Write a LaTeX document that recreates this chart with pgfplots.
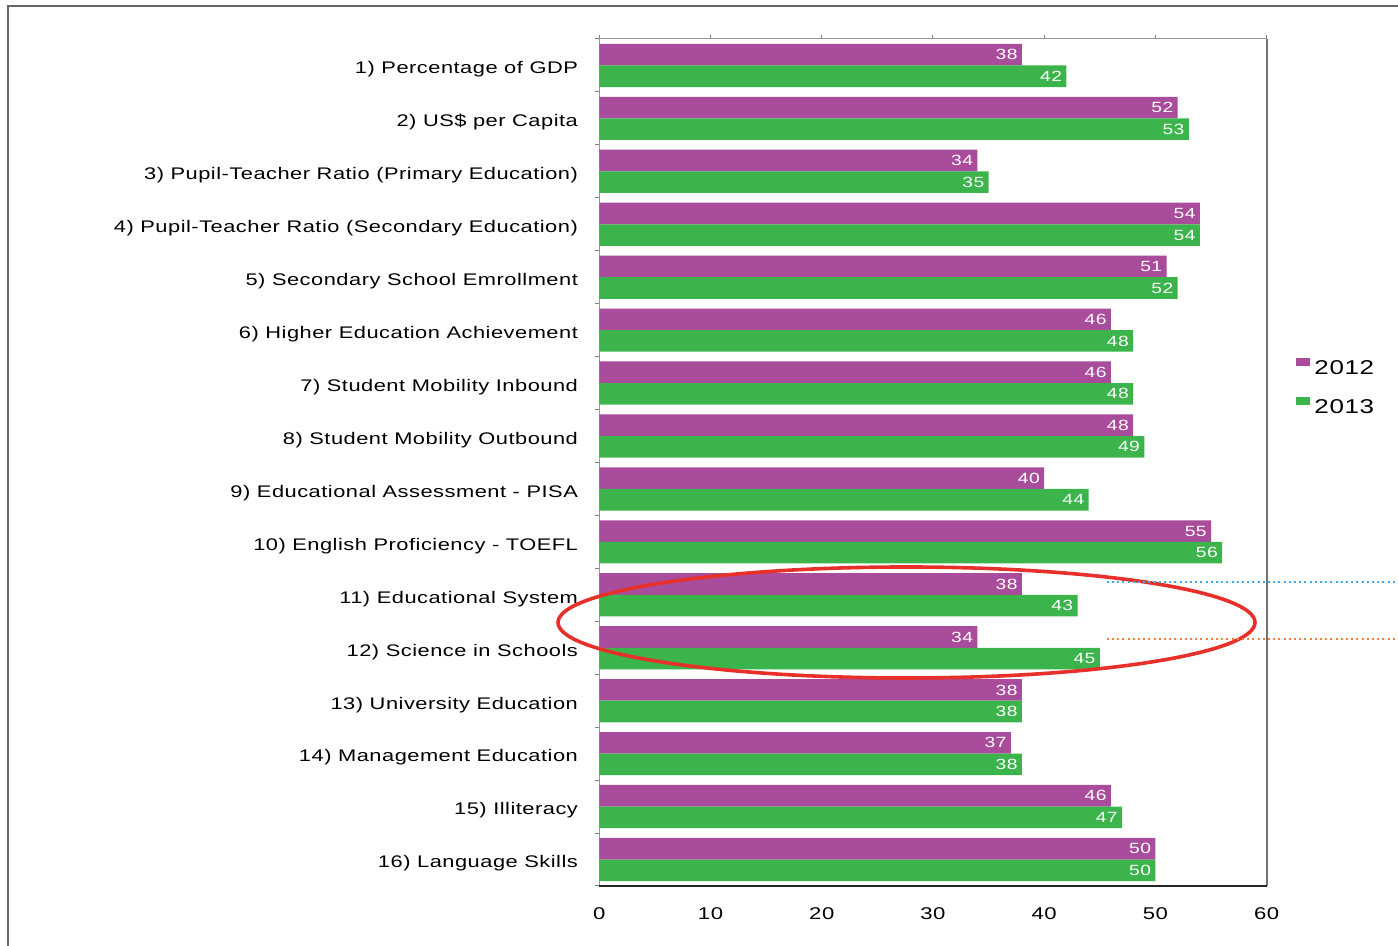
\documentclass[border=0pt]{standalone}
\usepackage{pgfplots}
\pgfplotsset{compat=1.18}
\usepackage{fontspec}
\setmainfont{Liberation Sans}[FakeStretch=1.3, LetterSpace=3]

\definecolor{c2012}{HTML}{A84C9B}
\definecolor{c2013}{HTML}{3BB44B}
\definecolor{ringred}{HTML}{E8302A}
\definecolor{dotblue}{HTML}{3FA9EE}
\definecolor{dotorange}{HTML}{F08040}

\begin{document}
\begin{tikzpicture}
% canvas: 1 px of the reference = 0.5pt
\useasboundingbox (0,0) rectangle (699pt,473pt);
\draw[black!60, line width=1pt] (4pt,0) -- (4pt,469.75pt) -- (699pt,469.75pt);

\begin{axis}[
    at={(299.65pt,30pt)}, anchor=south west,
    scale only axis,
    width=333.7pt, height=423.5pt,
    xbar,
    bar width=10.8pt,
    xmin=0, xmax=60,
    ymin=0.5, ymax=16.5,
    xtick={0,10,...,60},
    xtick pos=right,
    xticklabel pos=left,
    tick align=outside,
    major tick length=2pt,
    tick style={black!50, line width=0.5pt},
    xticklabel style={font=\fontsize{8.5}{10}\selectfont, inner sep=0pt, yshift=-8.5pt},
    /pgf/number format/assume math mode=true,
    ytick={0.5,1.5,...,16.5},
    yticklabels={},
    ytick pos=left,
    extra y ticks={1,...,16},
    extra y tick style={major tick length=0pt},
    extra y tick labels={
        16) Language Skills,
        15) Illiteracy,
        14) Management Education,
        13) University Education,
        12) Science in Schools,
        11) Educational System,
        10) English Proficiency - TOEFL,
        9) Educational Assessment - PISA,
        8) Student Mobility Outbound,
        7) Student Mobility Inbound,
        6) Higher Education Achievement,
        5) Secondary School Emrollment,
        4) Pupil-Teacher Ratio (Secondary Education),
        3) Pupil-Teacher Ratio (Primary Education),
        2) US\$ per Capita,
        1) Percentage of GDP},
    yticklabel style={font=\fontsize{8.4}{10}\selectfont, anchor=east, inner sep=0pt,
        xshift=-10.5pt, yshift=-2pt},
    axis line style={black!40, line width=0.5pt},
    nodes near coords,
    every node near coord/.append style={anchor=east, text=white, inner sep=2pt,
        font=\fontsize{7.4}{8}\selectfont},
    legend style={at={(axis description cs:1.044,0.626)}, anchor=north west,
        draw=none, fill=none, inner sep=0pt, row sep=7pt,
        font=\fontsize{10}{12}\selectfont},
    legend cell align=left,
    legend image code/.code={\fill[#1] (0pt,1.25pt) rectangle (7pt,5.25pt);},
    clip=false,
]
\addplot[fill=c2012, draw=none, bar shift=5.4pt] coordinates {
    (38,16) (52,15) (34,14) (54,13) (51,12) (46,11) (46,10) (48,9)
    (40,8) (55,7) (38,6) (34,5) (38,4) (37,3) (46,2) (50,1)};
\addplot[fill=c2013, draw=none, bar shift=-5.4pt] coordinates {
    (42,16) (53,15) (35,14) (54,13) (52,12) (48,11) (48,10) (49,9)
    (44,8) (56,7) (43,6) (45,5) (38,4) (38,3) (47,2) (50,1)};
\legend{2012,2013}
\draw[black!55, line width=1pt] (rel axis cs:1,1) -- (rel axis cs:1,0);
\draw[black!85, line width=1pt] (rel axis cs:0,0) -- (rel axis cs:1,0);
\end{axis}

% highlight ring and leader lines
\draw[ringred, line width=1.8pt] (453.25pt,161.75pt) ellipse [x radius=174.25pt, y radius=27.75pt];
\draw[dotblue, line width=1pt, dash pattern=on 1pt off 1.6pt] (553.35pt,182.15pt) -- (699pt,182.15pt);
\draw[dotorange, line width=1pt, dash pattern=on 1pt off 1.6pt] (553.35pt,153.5pt) -- (699pt,153.5pt);
\end{tikzpicture}
\end{document}
